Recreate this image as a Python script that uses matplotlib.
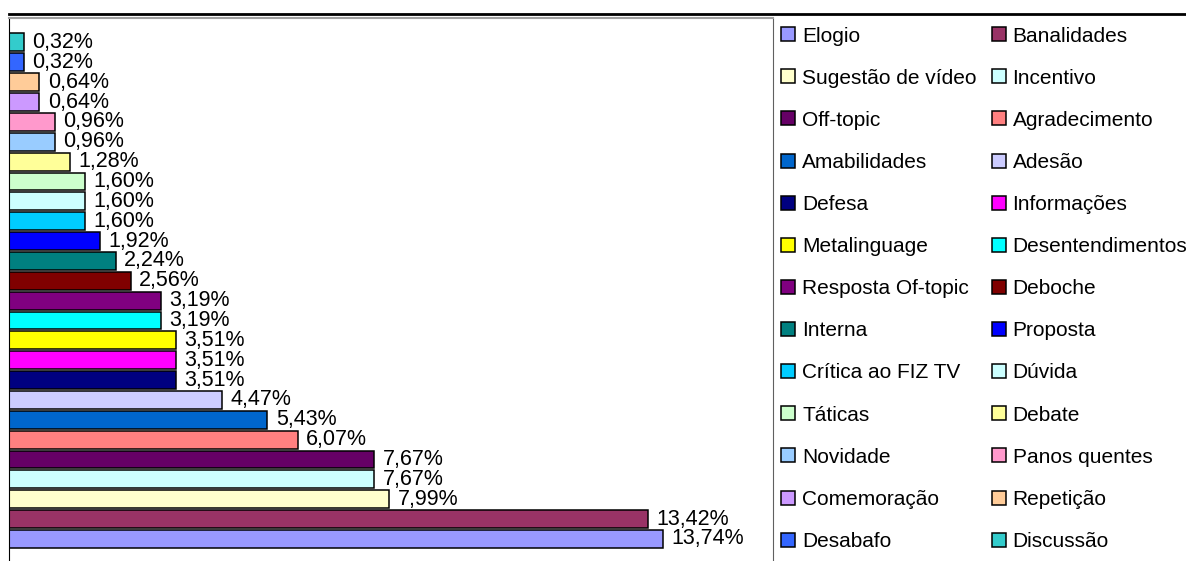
import matplotlib
matplotlib.use("Agg")
import matplotlib.pyplot as plt
from matplotlib.patches import Patch
from matplotlib.lines import Line2D

plt.rcParams['font.family'] = ['Liberation Sans', 'DejaVu Sans']

# categorias (de baixo para cima) e percentuais
categorias = ["Elogio", "Banalidades", "Sugestão de vídeo", "Incentivo", "Off-topic",
              "Agradecimento", "Amabilidades", "Adesão", "Defesa", "Informações",
              "Metalinguage", "Desentendimentos", "Resposta Of-topic", "Deboche",
              "Interna", "Proposta", "Crítica ao FIZ TV", "Dúvida", "Táticas", "Debate",
              "Novidade", "Panos quentes", "Comemoração", "Repetição", "Desabafo",
              "Discussão"]
valores = [13.74, 13.42, 7.99, 7.67, 7.67, 6.07, 5.43, 4.47, 3.51, 3.51, 3.51,
           3.19, 3.19, 2.56, 2.24, 1.92, 1.60, 1.60, 1.60, 1.28, 0.96, 0.96,
           0.64, 0.64, 0.32, 0.32]
cores = ["#9999FF", "#993366", "#FFFFCC", "#CCFFFF", "#660066", "#FF8080", "#0066CC",
         "#CCCCFF", "#000080", "#FF00FF", "#FFFF00", "#00FFFF", "#800080", "#800000",
         "#008080", "#0000FF", "#00CCFF", "#CCFFFF", "#CCFFCC", "#FFFF99", "#99CCFF",
         "#FF99CC", "#CC99FF", "#FFCC99", "#3366FF", "#33CCCC"]

W, H = 1186, 561
fig = plt.figure(figsize=(W / 100, H / 100), dpi=100)
ax = fig.add_axes([9 / W, 0, (773 - 9) / W, (H - 18) / H])

pos = list(range(len(valores)))
barras = ax.barh(pos, valores, height=0.9, color=cores, edgecolor='black', linewidth=1.1)
ax.bar_label(barras, labels=[f"{v:.2f}%".replace('.', ',') for v in valores],
             padding=6, fontsize=15.5)

ax.set_xlim(0, 16.05)
ax.set_ylim(-1.11, 26.23)
ax.set_xticks([])
ax.set_yticks([])
ax.spines['bottom'].set_visible(False)
ax.spines['left'].set_color('black')
ax.spines['top'].set_color('#a0a0a0')
ax.spines['top'].set_linewidth(1.5)
ax.spines['right'].set_color('#606060')

# linha superior da área do gráfico
fig.add_artist(Line2D([9 / W, 1], [1 - 14 / H, 1 - 14 / H], color='black', linewidth=2,
                      transform=fig.transFigure))

itens = [Patch(facecolor=c, edgecolor='black', linewidth=1.1) for c in cores]
ordem = list(range(0, 26, 2)) + list(range(1, 26, 2))
fig.legend([itens[i] for i in ordem], [categorias[i] for i in ordem],
           loc='upper left', bbox_to_anchor=(781 / W, 1 - 26.5 / H), ncol=2,
           frameon=False, fontsize=15, handlelength=0.67, handleheight=0.65,
           handletextpad=0.34, columnspacing=0.72, labelspacing=1.11, borderpad=0,
           borderaxespad=0)

fig.savefig("out.png", dpi=100)
